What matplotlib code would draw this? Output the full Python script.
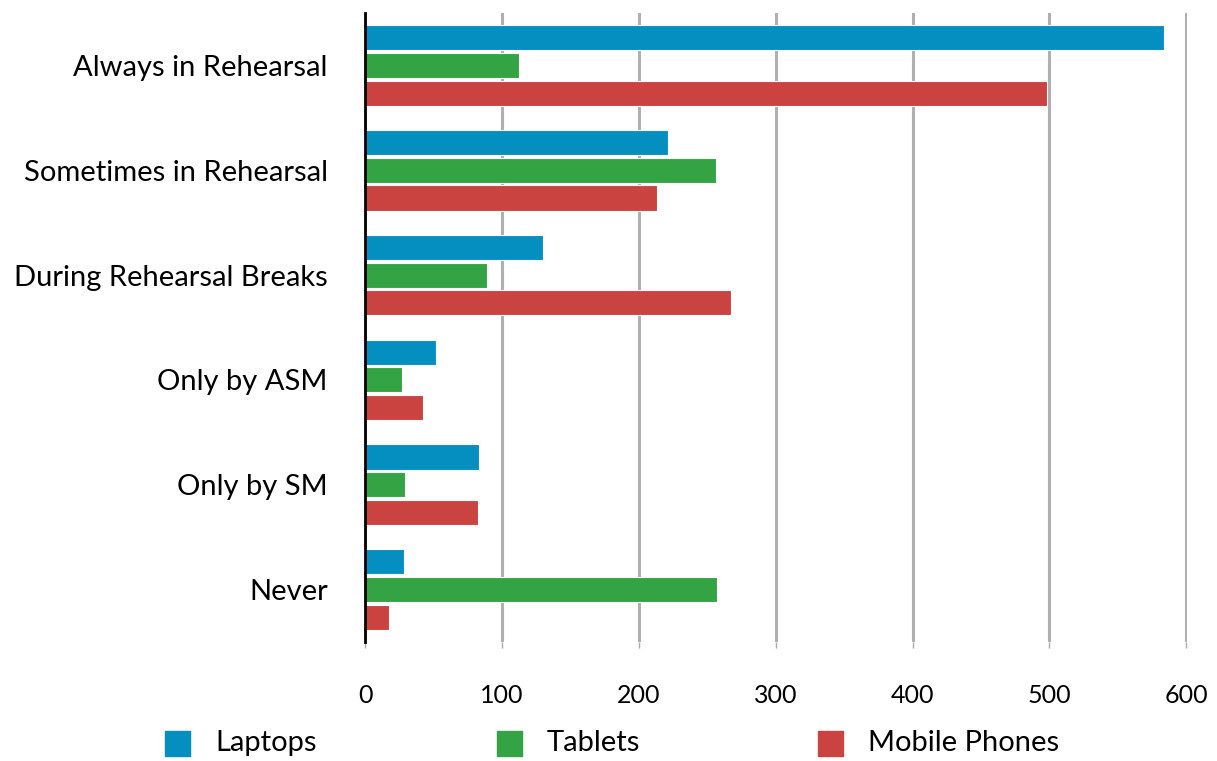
import matplotlib
matplotlib.use("Agg")
import matplotlib.pyplot as plt
from matplotlib.patches import Rectangle
import numpy as np

categories = ["Always in Rehearsal", "Sometimes in Rehearsal", "During Rehearsal Breaks",
              "Only by ASM", "Only by SM", "Never"]
series_names = ["Laptops", "Tablets", "Mobile Phones"]
laptops = [584, 221, 130, 52, 83, 28]
tablets = [112, 256, 89, 27, 29, 257]
phones = [498, 213, 267, 42, 82, 17]
x_ticks = [0, 100, 200, 300, 400, 500, 600]

colors = ["#058FC1", "#33A343", "#CB4340"]

plt.rcParams['font.family'] = ['Lato', 'DejaVu Sans']

W, H = 1217, 761
fig = plt.figure(figsize=(W / 100, H / 100), dpi=100)
ax = fig.add_axes([365.3 / W, 1 - 642 / H, (1187 - 365.3) / W, (642 - 13) / H])

y = np.arange(len(categories))
offsets = [-0.265, 0.0, 0.265]
h = 0.24
for vals, off, col, name in zip([laptops, tablets, phones], offsets, colors, series_names):
    ax.barh(y + off, vals, height=h, color=col, edgecolor='white', linewidth=0.8,
            label=name, zorder=3, left=0)

ax.set_ylim(len(categories) - 0.5, -0.5)
ax.set_xlim(0, 600.5)
ax.set_yticks(y)
ax.set_yticklabels(categories, fontsize=21)
ax.set_xticks(x_ticks)
ax.set_xticklabels([str(v) for v in x_ticks], fontsize=18)
ax.tick_params(axis='y', length=0, pad=27)
ax.tick_params(axis='x', length=4, color='#aaaaaa', width=1, pad=26)

ax.xaxis.grid(True, color='#b0b0b0', linewidth=2.2, zorder=0)
ax.set_axisbelow(True)
for s in ['top', 'right', 'bottom']:
    ax.spines[s].set_visible(False)
ax.spines['left'].set_color('black')
ax.spines['left'].set_linewidth(2)
ax.spines['left'].set_zorder(4)

# legend laid out in figure pixels
leg_x = [165, 497, 818]
leg_yc = 743
sq = 25
for lx, col, name in zip(leg_x, colors, series_names):
    fig.patches.append(Rectangle(((lx) / W, 1 - (leg_yc + sq / 2) / H), sq / W, sq / H,
                                 transform=fig.transFigure, color=col, figure=fig))
    fig.text((lx + sq + 25) / W, 1 - leg_yc / H, name, fontsize=21, va='center', ha='left')

fig.savefig("out.png", dpi=100)
